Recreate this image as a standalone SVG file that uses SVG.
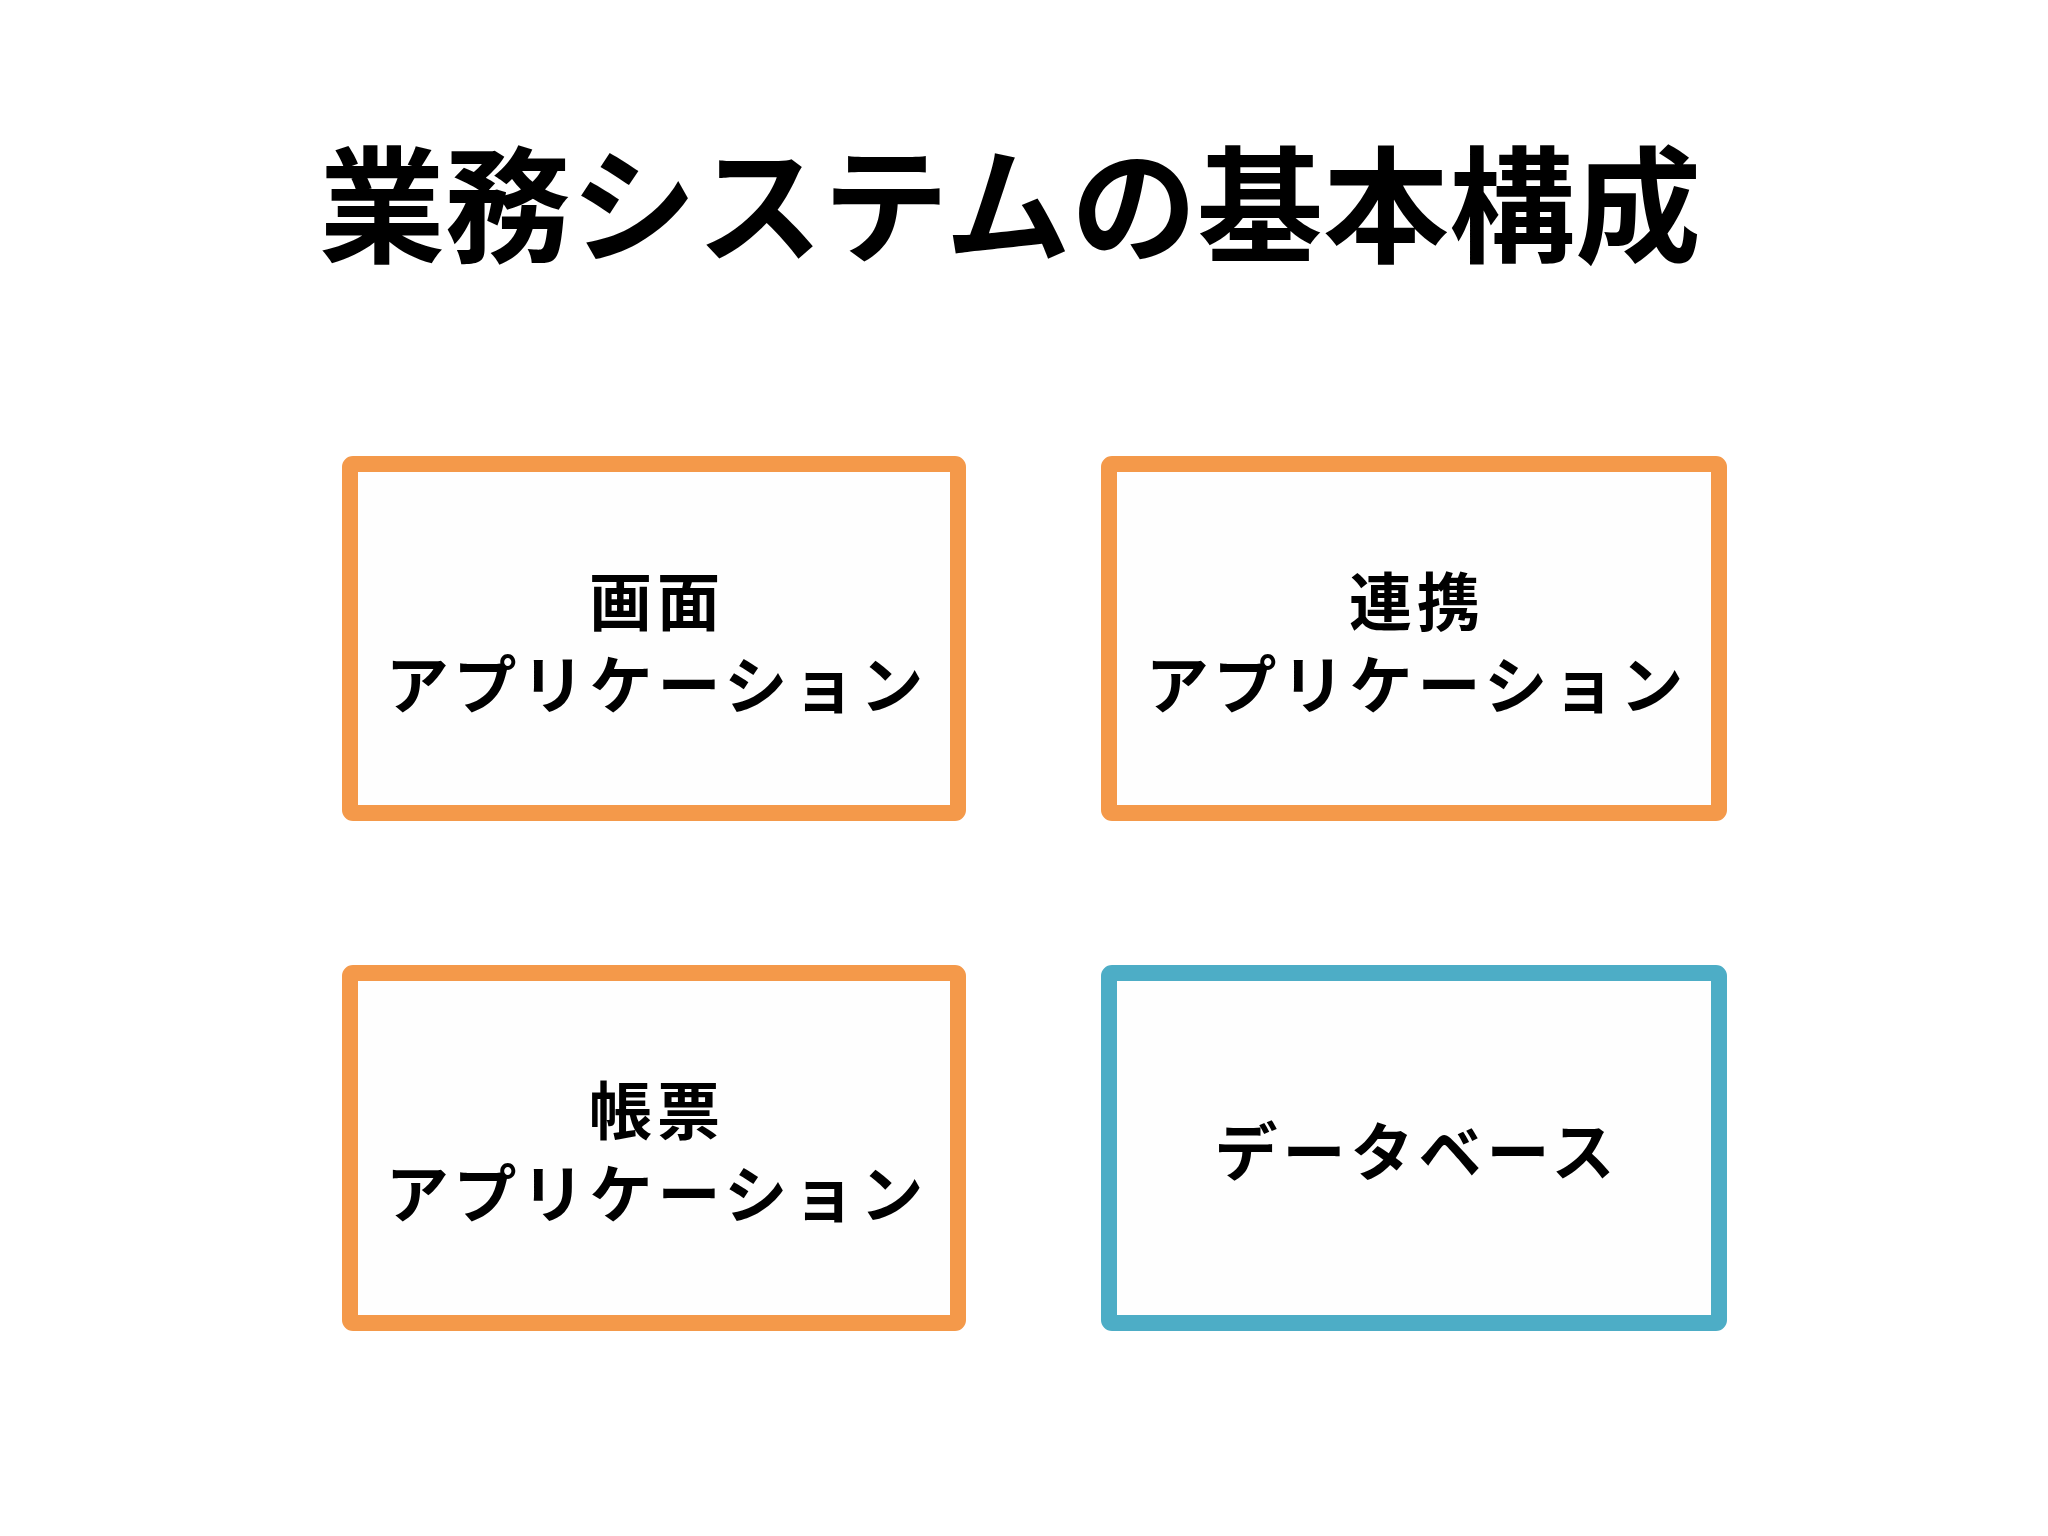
<svg xmlns="http://www.w3.org/2000/svg" width="2048" height="1536" viewBox="0 0 2048 1536">
<style>
.bg{fill:#FFFFFF}
.box{fill:#FEFEFE;stroke-width:16;stroke-linejoin:round}
.app{stroke:#F4994A}
.db{stroke:#4DADC6}
.t{font-family:"Noto Sans CJK JP","Noto Sans CJK SC",sans-serif;font-weight:700;fill:#000;text-anchor:middle}
.title{font-size:126px}
.lbl{font-size:63px;letter-spacing:5px}
</style>
<rect class="bg" x="0" y="0" width="2048" height="1536"/>
<text class="t title" x="1010" y="253">業務システムの基本構成</text>
<g id="node-gamen">
<rect class="box app" x="350" y="464" width="608" height="349" rx="3"/>
<text class="t lbl" x="657" y="625">画面</text>
<text class="t lbl" x="657" y="708">アプリケーション</text>
</g>
<g id="node-renkei">
<rect class="box app" x="1109" y="464" width="610" height="349" rx="3"/>
<text class="t lbl" x="1417" y="625">連携</text>
<text class="t lbl" x="1417" y="708">アプリケーション</text>
</g>
<g id="node-chohyo">
<rect class="box app" x="350" y="973" width="608" height="350" rx="3"/>
<text class="t lbl" x="657" y="1134">帳票</text>
<text class="t lbl" x="657" y="1217">アプリケーション</text>
</g>
<g id="node-db">
<rect class="box db" x="1109" y="973" width="610" height="350" rx="3"/>
<text class="t lbl" x="1417" y="1175">データベース</text>
</g>
<g id="connectors"></g>
</svg>
